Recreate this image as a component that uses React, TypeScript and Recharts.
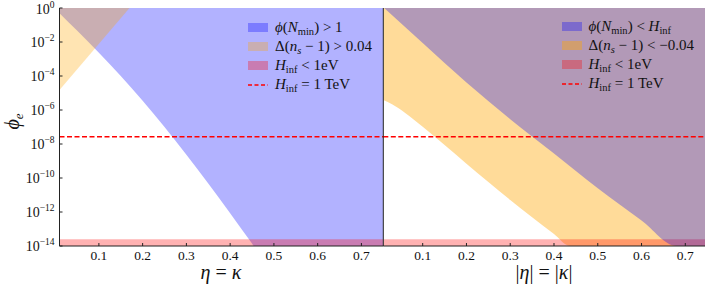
import React from "react";
import { ComposedChart, Area, XAxis, YAxis, ReferenceLine } from "recharts";

// values are log10(phi_e)
const X_TICKS = [0.1, 0.2, 0.3, 0.4, 0.5, 0.6, 0.7];
const Y_TICKS = [-14, -12, -10, -8, -6, -4, -2, 0];
const LEFT_XLIM = [0.01, 0.75];
const RIGHT_XLIM = [0.01, 0.745];

// left panel: eta = kappa
const LEFT_BLUE_X = [0.01, 0.05, 0.1, 0.15, 0.2, 0.25, 0.3, 0.35, 0.4, 0.45, 0.454, 0.75];
const LEFT_BLUE_LOW = [-0.31, -1.33, -2.63, -4.0, -5.45, -7.0, -8.63, -10.33, -12.08, -13.86, -14, -14];
const LEFT_ORANGE_X = [0.01, 0.17];
const LEFT_ORANGE_LOW = [-4.82, 0];

// right panel: |eta| = |kappa|
const RIGHT_ORANGE_X = [0.01, 0.03, 0.06, 0.1, 0.15, 0.2, 0.25, 0.3, 0.35, 0.4, 0.436, 0.745];
const RIGHT_ORANGE_LOW = [-5.41, -5.66, -6.17, -6.98, -8.06, -9.16, -10.24, -11.29, -12.31, -13.3, -14, -14];
const RIGHT_BLUE_X = [0.012, 0.1, 0.2, 0.3, 0.4, 0.5, 0.6, 0.68, 0.745];
const RIGHT_BLUE_LOW = [0, -2.06, -4.38, -6.54, -8.56, -10.6, -12.5, -14, -14];

// H_inf < 1 eV band and H_inf = 1 TeV line
const BAND_LOW = -14;
const BAND_HIGH = -13.6;
const TEV_LINE = -7.57;

const FONT = "'Liberation Serif', 'DejaVu Serif', serif";
const BLUE = "#0000ff";
const ORANGE = "#ffa500";
const RED = "#ff0000";
const SPINE = "#222";

const toRange = (xs: number[], lows: number[], top = 0) =>
  xs.map((x, i) => ({ x, range: [lows[i], top] }));

const bandData = (lim: number[]) => lim.map((x) => ({ x, range: [BAND_LOW, BAND_HIGH] }));

function PowTick({ x, y, payload }: any) {
  const v = payload.value as number;
  return (
    <text x={x} y={y + 4.5} textAnchor="end" fontFamily={FONT} fontSize={14} fill="#111">
      10
      <tspan dy={-6} fontSize={9.5}>{v === 0 ? "0" : "\u2212" + Math.abs(v)}</tspan>
    </text>
  );
}

function Axes({ xlim, labels, leftWidth }: { xlim: number[]; labels: boolean; leftWidth: number }) {
  return (
    <>
      <XAxis
        dataKey="x"
        type="number"
        domain={xlim}
        allowDataOverflow
        ticks={X_TICKS}
        tickFormatter={(v) => v.toFixed(1)}
        height={43}
        tickSize={-3}
        tickMargin={7}
        stroke={SPINE}
        tick={{ fontFamily: FONT, fontSize: 13.5, fill: "#111" }}
      />
      <XAxis xAxisId="t" orientation="top" dataKey="x" type="number" domain={xlim} allowDataOverflow ticks={X_TICKS} height={0} tickSize={-3} tick={false} stroke={SPINE} />
      <YAxis
        type="number"
        domain={[-14, 0]}
        allowDataOverflow
        ticks={Y_TICKS}
        width={leftWidth}
        tickSize={-3}
        tickMargin={8}
        stroke={SPINE}
        tick={labels ? <PowTick /> : false}
      />
      <YAxis yAxisId="r" orientation="right" type="number" domain={[-14, 0]} allowDataOverflow ticks={Y_TICKS} width={0} tickSize={-3} tick={false} stroke={SPINE} />
    </>
  );
}

function Fill({ data, color, opacity, curve = "monotone" }: any) {
  return (
    <Area
      data={data}
      dataKey="range"
      type={curve}
      stroke="none"
      fill={color}
      fillOpacity={opacity}
      dot={false}
      activeDot={false}
      isAnimationActive={false}
    />
  );
}

const subStyle: React.CSSProperties = { fontSize: 10.5, position: "relative", top: 3 };

function Swatch({ color }: { color: string }) {
  return <span style={{ position: "absolute", left: 0, top: 5, width: 20, height: 9, background: color }} />;
}

function Dash() {
  return (
    <svg style={{ position: "absolute", left: 0, top: 8 }} width={20} height={4}>
      <line x1={0} y1={2} x2={20} y2={2} stroke={RED} strokeWidth={1.3} strokeDasharray="4 2.5" />
    </svg>
  );
}

function Legend({ left, top, textLeft, rows }: { left: number; top: number; textLeft: number; rows: [React.ReactNode, React.ReactNode][] }) {
  return (
    <div style={{ position: "absolute", left, top, fontFamily: FONT, fontSize: 15, color: "#111" }}>
      {rows.map(([sw, label], i) => (
        <div key={i} style={{ position: "absolute", top: i * 19, left: 0, width: 200, height: 19, whiteSpace: "nowrap" }}>
          {sw}
          <span style={{ position: "absolute", left: textLeft, top: 0, lineHeight: "19px" }}>{label}</span>
        </div>
      ))}
    </div>
  );
}

const Hinf = () => (
  <>
    <i>H</i>
    <span style={subStyle}>inf</span>
  </>
);
const PhiN = () => (
  <>
    <i>ϕ</i>(<i>N</i>
    <span style={subStyle}>min</span>)
  </>
);
const Ns = () => (
  <>
    Δ(<i>n</i>
    <i style={subStyle}>s</i> − 1)
  </>
);

export default function App() {
  const leftBlue = toRange(LEFT_BLUE_X, LEFT_BLUE_LOW);
  const leftOrange = toRange(LEFT_ORANGE_X, LEFT_ORANGE_LOW);
  const rightOrange = toRange(RIGHT_ORANGE_X, RIGHT_ORANGE_LOW);
  const rightBlue = toRange(RIGHT_BLUE_X, RIGHT_BLUE_LOW);

  return (
    <div style={{ position: "absolute", left: 0, top: 0, width: 712, height: 289, background: "#fff", overflow: "hidden" }}>
      <div style={{ position: "absolute", left: 0, top: 0 }}>
        <ComposedChart width={386} height={289} margin={{ top: 8, right: 2.7, bottom: 0, left: 0 }}>
          {Axes({ xlim: LEFT_XLIM, labels: true, leftWidth: 59.5 })}
          {Fill({ data: leftBlue, color: BLUE, opacity: 0.3 })}
          {Fill({ data: leftOrange, color: ORANGE, opacity: 0.3, curve: "linear" })}
          {Fill({ data: bandData(LEFT_XLIM), color: RED, opacity: 0.3, curve: "linear" })}
          <ReferenceLine y={TEV_LINE} stroke={RED} strokeWidth={1.4} strokeDasharray="5 2.5" />
        </ComposedChart>
      </div>
      <div style={{ position: "absolute", left: 370, top: 0 }}>
        <ComposedChart width={342} height={289} margin={{ top: 8, right: 7, bottom: 0, left: 0 }}>
          {Axes({ xlim: RIGHT_XLIM, labels: false, leftWidth: 13.3 })}
          {Fill({ data: rightOrange, color: ORANGE, opacity: 0.4 })}
          {Fill({ data: bandData(RIGHT_XLIM), color: RED, opacity: 0.3, curve: "linear" })}
          {Fill({ data: rightBlue, color: BLUE, opacity: 0.3 })}
          <ReferenceLine y={TEV_LINE} stroke={RED} strokeWidth={1.4} strokeDasharray="5 2.5" />
        </ComposedChart>
      </div>

      <Legend
        left={248}
        top={18}
        textLeft={27}
        rows={[
          [<Swatch color="rgba(0,0,255,0.3)" />, <><PhiN /> &gt; 1</>],
          [<Swatch color="rgba(255,165,0,0.3)" />, <><Ns /> &gt; 0.04</>],
          [<Swatch color="rgba(255,0,0,0.3)" />, <><Hinf /> &lt; 1eV</>],
          [<Dash />, <><Hinf /> = 1 TeV</>],
        ]}
      />
      <Legend
        left={562}
        top={17}
        textLeft={26.5}
        rows={[
          [<Swatch color="rgba(0,0,255,0.3)" />, <><PhiN /> &lt; <Hinf /></>],
          [<Swatch color="rgba(255,165,0,0.4)" />, <><Ns /> &lt; −0.04</>],
          [<Swatch color="rgba(255,0,0,0.3)" />, <><Hinf /> &lt; 1eV</>],
          [<Dash />, <><Hinf /> = 1 TeV</>],
        ]}
      />

      <div style={{ position: "absolute", left: 121, width: 200, top: 261, textAlign: "center", fontFamily: FONT, fontSize: 20, color: "#111" }}>
        <i>η</i> = <i>κ</i>
      </div>
      <div style={{ position: "absolute", left: 444, width: 200, top: 261, textAlign: "center", fontFamily: FONT, fontSize: 20, color: "#111" }}>
        |<i>η</i>| = |<i>κ</i>|
      </div>
      <div style={{ position: "absolute", left: -8, top: 110, width: 40, textAlign: "center", transform: "rotate(-90deg)", fontFamily: FONT, fontSize: 20, color: "#111" }}>
        <i>ϕ</i>
        <i style={{ fontSize: 13, position: "relative", top: 4 }}>e</i>
      </div>
    </div>
  );
}
